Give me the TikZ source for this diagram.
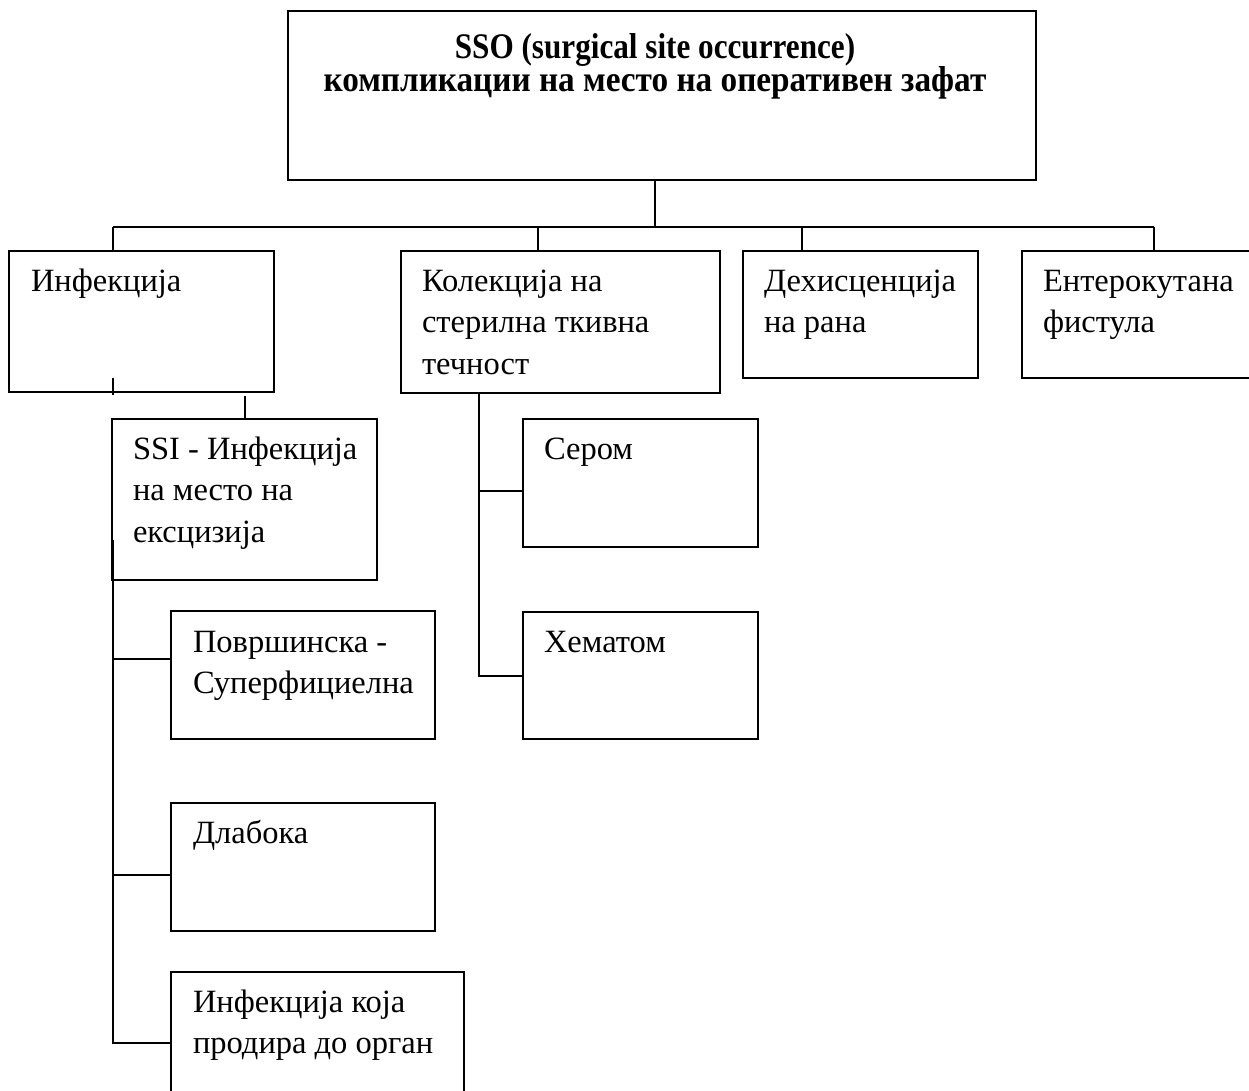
\documentclass[tikz,border=0pt]{standalone}
\usepackage{fontspec}
\usepackage{graphicx}
\setmainfont{Liberation Serif}
\usetikzlibrary{calc}
\tikzset{
  box/.style={draw, line width=2pt, rectangle, inner sep=0pt, outer sep=0pt, anchor=north west},
  lbl/.style={anchor=north west, inner sep=0pt, outer sep=0pt, align=left, font=\fontsize{32.5}{41.7}\selectfont},
  conn/.style={line width=2pt},
}
\newcommand{\fl}{\rule{0pt}{30pt}}
\begin{document}
\begin{tikzpicture}[x=1pt,y=-1pt]
\clip (0,0) rectangle (1249,1090);
\fill[white] (0,0) rectangle (1249,1090);
% boxes
\node[box, minimum width=748pt, minimum height=169pt] (top) at (288,11) {};
\node[box, minimum width=265pt, minimum height=141pt] (inf) at (9,251) {};
\node[box, minimum width=319pt, minimum height=142pt] (kol) at (401,251) {};
\node[box, minimum width=235pt, minimum height=127pt] (deh) at (743,251) {};
\node[box, minimum width=240pt, minimum height=127pt] (ent) at (1022,251) {};
\node[box, minimum width=265pt, minimum height=161pt] (ssi) at (112,419) {};
\node[box, minimum width=235pt, minimum height=128pt] (ser) at (523,419) {};
\node[box, minimum width=235pt, minimum height=127pt] (hem) at (523,612) {};
\node[box, minimum width=264pt, minimum height=128pt] (sup) at (171,611) {};
\node[box, minimum width=264pt, minimum height=128pt] (dla) at (171,803) {};
\node[box, minimum width=293pt, minimum height=142pt] (org) at (171,972) {};
% texts
\node[inner sep=0pt, outer sep=0pt, anchor=north, align=center, font=\bfseries\fontsize{36}{33}\selectfont] (ttop) at ($(top.north)+(-7,17)$)
  {\fl\scalebox{0.866}[1]{SSO (surgical site occurrence)}\\\scalebox{0.924}[1]{компликации на место на оперативен зафат}};
\node[lbl] (tinf) at ($(inf.north west)+(22,10)$) {\fl Инфекција};
\node[lbl] (tkol) at ($(kol.north west)+(21,10)$) {\fl Колекција на\\стерилна ткивна\\течност};
\node[lbl] (tdeh) at ($(deh.north west)+(21,10)$) {\fl Дехисценција\\на рана};
\node[lbl] (tent) at ($(ent.north west)+(21,10)$) {\fl Ентерокутана\\фистула};
\node[lbl] (tssi) at ($(ssi.north west)+(21,10)$) {\fl SSI - Инфекција\\на место на\\ексцизија};
\node[lbl] (tser) at ($(ser.north west)+(21,10)$) {\fl Сером};
\node[lbl] (them) at ($(hem.north west)+(21,10)$) {\fl Хематом};
\node[lbl] (tsup) at ($(sup.north west)+(22,11)$) {\fl Површинска -\\Суперфициелна};
\node[lbl] (tdla) at ($(dla.north west)+(22,10)$) {\fl Длабока};
\node[lbl] (torg) at ($(org.north west)+(22,10)$) {\fl Инфекција која\\продира до орган};
% bus coordinates
\coordinate (b1) at (113,227);
\coordinate (b2) at (538,227);
\coordinate (b3) at (802,227);
\coordinate (b4) at (1154,227);
% connectors top level
\draw[conn] (top.south -| 655,0) -- (b1 -| 655,0);
\draw[conn] (b1) -- (b4);
\draw[conn] (b1) -- (b1 |- inf.north);
\draw[conn] (b2) -- (b2 |- kol.north);
\draw[conn] (b3) -- (b3 |- deh.north);
\draw[conn] (b4) -- (b4 |- ent.north);
% small tick in Infekcija
\draw[conn] (b1 |- inf.south) ++(0,3) -- ++(0,-17);
% Infekcija -> SSI
\coordinate (c1) at ($(ssi.north west)+(133,0)$);
\draw[conn] (c1) -- ++(0,-23);
% SSI spine
\coordinate (s0) at ($(ssi.north west)+(1,121)$);
\coordinate (s1) at ($(sup.north west)+(0,48)$);
\coordinate (s2) at ($(dla.north west)+(0,72)$);
\coordinate (s3) at ($(org.north west)+(0,71)$);
\draw[conn] (s0) -- (s0 |- s3) -- (s3);
\draw[conn] (s0 |- s1) -- (s1);
\draw[conn] (s0 |- s2) -- (s2);
% Kolekcija spine
\coordinate (k0) at (479,0);
\coordinate (k1) at ($(ser.north west)+(0,72)$);
\coordinate (k2) at ($(hem.north west)+(0,64)$);
\draw[conn] (k0 |- kol.south) -- (k0 |- k2) -- (k2);
\draw[conn] (k0 |- k1) -- (k1);
\end{tikzpicture}
\end{document}
